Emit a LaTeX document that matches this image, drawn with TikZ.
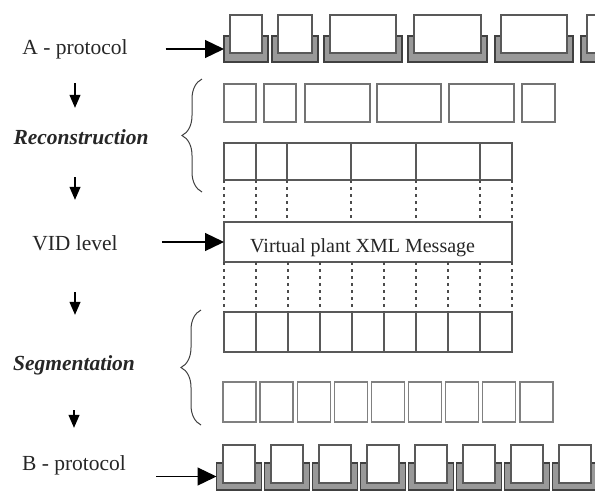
\documentclass[tikz,border=0pt]{standalone}
\usepackage{fontspec}
\setmainfont{Liberation Serif}
\usetikzlibrary{arrows.meta,decorations.pathreplacing}

\tikzset{
  lbl/.style={font=\fontsize{21.5}{24}\selectfont, text=black!85, inner sep=0pt, text height=15pt, text depth=5pt},
  stage/.style={lbl, font=\fontsize{21.5}{24}\selectfont\bfseries\itshape},
  cell/.style={draw=black!65, line width=1.4pt, fill=white, inner sep=0pt, outer sep=0pt},
  seg/.style={cell, draw=black!50, minimum width=33pt, minimum height=40pt},
  tray/.style={draw=black!75, line width=1.2pt, fill=black!40, inner sep=0pt, outer sep=0pt},
  link/.style={dash pattern=on 3pt off 4pt, line width=1.3pt, draw=black!70},
  feed/.style={-{Triangle[length=19pt,width=18pt]}, line width=1.3pt},
  down/.style={-{Triangle[length=13pt,width=11pt]}, line width=1.2pt},
  brace/.style={decorate, decoration={brace, amplitude=20pt}, line width=1pt, draw=black!75}
}

\begin{document}
\begin{tikzpicture}[x=1pt,y=-1pt]
\useasboundingbox (0,0) rectangle (595,491);

% labels on the left
\node[lbl] (alab) at (75,49) {A - protocol};
\node[stage] (rec) at (81,139) {Reconstruction};
\node[lbl] (vidlab) at (75,245) {VID level};
\node[stage] (segm) at (74,365) {Segmentation};
\node[lbl] (blab) at (74,465) {B - protocol};

% A-protocol packets
\node[tray, minimum width=44pt, minimum height=26pt] (apt1) at (246,49) {};
\node[tray, minimum width=46pt, minimum height=26pt] (apt2) at (295,49) {};
\node[tray, minimum width=78pt, minimum height=26pt] (apt3) at (363,49) {};
\node[tray, minimum width=79pt, minimum height=26pt] (apt4) at (447.5,49) {};
\node[tray, minimum width=78pt, minimum height=26pt] (apt5) at (534,49) {};
\node[tray, minimum width=78pt, minimum height=26pt] (apt6) at (620,49) {};
\node[cell, minimum width=32pt, minimum height=38pt] (ap1) at (246,34) {};
\node[cell, minimum width=34pt, minimum height=38pt] (ap2) at (295,34) {};
\node[cell, minimum width=66pt, minimum height=38pt] (ap3) at (363,34) {};
\node[cell, minimum width=67pt, minimum height=38pt] (ap4) at (447.5,34) {};
\node[cell, minimum width=66pt, minimum height=38pt] (ap5) at (534,34) {};
\node[cell, minimum width=66pt, minimum height=38pt] (ap6) at (620,34) {};

% received payloads
\node[cell, draw=black!55, minimum width=32pt, minimum height=38pt] (r1) at (240,103) {};
\node[cell, draw=black!55, minimum width=32pt, minimum height=38pt] (r2) at (280,103) {};
\node[cell, draw=black!55, minimum width=65pt, minimum height=38pt] (r3) at (337.5,103) {};
\node[cell, draw=black!55, minimum width=64pt, minimum height=38pt] (r4) at (409,103) {};
\node[cell, draw=black!55, minimum width=65pt, minimum height=38pt] (r5) at (481.5,103) {};
\node[cell, draw=black!55, minimum width=33pt, minimum height=38pt] (r6) at (538.5,103) {};

% merged payloads
\node[cell, minimum width=32pt, minimum height=37pt] (m1) at (240,161.5) {};
\node[cell, minimum width=31pt, minimum height=37pt] (m2) at (271.5,161.5) {};
\node[cell, minimum width=64pt, minimum height=37pt] (m3) at (319,161.5) {};
\node[cell, minimum width=65pt, minimum height=37pt] (m4) at (383.5,161.5) {};
\node[cell, minimum width=64pt, minimum height=37pt] (m5) at (448,161.5) {};
\node[cell, minimum width=32pt, minimum height=37pt] (m6) at (496,161.5) {};

% VID message
\node[cell, minimum width=288pt, minimum height=40pt] (vid) at (368,242) {};
\node[lbl, font=\fontsize{20}{22}\selectfont, anchor=west] (vidtxt) at (250,247) {Virtual plant XML Message};

% split payloads
\node[cell, minimum width=32pt, minimum height=40pt] (s1) at (240,332) {};
\node[cell, minimum width=32pt, minimum height=40pt] (s2) at (272,332) {};
\node[cell, minimum width=32pt, minimum height=40pt] (s3) at (304,332) {};
\node[cell, minimum width=32pt, minimum height=40pt] (s4) at (336,332) {};
\node[cell, minimum width=32pt, minimum height=40pt] (s5) at (368,332) {};
\node[cell, minimum width=32pt, minimum height=40pt] (s6) at (400,332) {};
\node[cell, minimum width=32pt, minimum height=40pt] (s7) at (432,332) {};
\node[cell, minimum width=32pt, minimum height=40pt] (s8) at (464,332) {};
\node[cell, minimum width=32pt, minimum height=40pt] (s9) at (496,332) {};

% segments
\node[seg] (g1) at (239.5,402) {};
\node[seg] (g2) at (276.6,402) {};
\node[seg] (g3) at (313.7,402) {};
\node[seg] (g4) at (350.8,402) {};
\node[seg] (g5) at (387.9,402) {};
\node[seg] (g6) at (425,402) {};
\node[seg] (g7) at (462.1,402) {};
\node[seg] (g8) at (499.2,402) {};
\node[seg] (g9) at (536.3,402) {};

% B-protocol packets
\node[tray, minimum width=45pt, minimum height=27pt] (bpt1) at (239,476.5) {};
\node[tray, minimum width=45pt, minimum height=27pt] (bpt2) at (287,476.5) {};
\node[tray, minimum width=45pt, minimum height=27pt] (bpt3) at (335,476.5) {};
\node[tray, minimum width=45pt, minimum height=27pt] (bpt4) at (383,476.5) {};
\node[tray, minimum width=45pt, minimum height=27pt] (bpt5) at (431,476.5) {};
\node[tray, minimum width=45pt, minimum height=27pt] (bpt6) at (479,476.5) {};
\node[tray, minimum width=45pt, minimum height=27pt] (bpt7) at (527,476.5) {};
\node[tray, minimum width=45pt, minimum height=27pt] (bpt8) at (575,476.5) {};
\node[cell, minimum width=32pt, minimum height=38pt] (bp1) at (239,464) {};
\node[cell, minimum width=32pt, minimum height=38pt] (bp2) at (287,464) {};
\node[cell, minimum width=32pt, minimum height=38pt] (bp3) at (335,464) {};
\node[cell, minimum width=32pt, minimum height=38pt] (bp4) at (383,464) {};
\node[cell, minimum width=32pt, minimum height=38pt] (bp5) at (431,464) {};
\node[cell, minimum width=32pt, minimum height=38pt] (bp6) at (479,464) {};
\node[cell, minimum width=32pt, minimum height=38pt] (bp7) at (527,464) {};
\node[cell, minimum width=32pt, minimum height=38pt] (bp8) at (575,464) {};

% dashed guides
\draw[link] (m1.south west) -- (m1.south west |- vid.north);
\draw[link] (m2.south west) -- (m2.south west |- vid.north);
\draw[link] (m3.south west) -- (m3.south west |- vid.north);
\draw[link] (m4.south west) -- (m4.south west |- vid.north);
\draw[link] (m5.south west) -- (m5.south west |- vid.north);
\draw[link] (m6.south west) -- (m6.south west |- vid.north);
\draw[link] (m6.south east) -- (m6.south east |- vid.north);
\draw[link] (s1.north west |- vid.south) -- (s1.north west);
\draw[link] (s2.north west |- vid.south) -- (s2.north west);
\draw[link] (s3.north west |- vid.south) -- (s3.north west);
\draw[link] (s4.north west |- vid.south) -- (s4.north west);
\draw[link] (s5.north west |- vid.south) -- (s5.north west);
\draw[link] (s6.north west |- vid.south) -- (s6.north west);
\draw[link] (s7.north west |- vid.south) -- (s7.north west);
\draw[link] (s8.north west |- vid.south) -- (s8.north west);
\draw[link] (s9.north west |- vid.south) -- (s9.north west);
\draw[link] (s9.north east |- vid.south) -- (s9.north east);

% braces
\draw[brace] (202,192) -- (202,79);
\draw[brace] (201,425) -- (201,310);

% arrows
\draw[feed, shorten <=38pt] (alab.east |- apt1.west) -- (apt1.west);
\draw[feed, shorten <=44pt] (vidlab.east |- vid.west) -- (vid.west);
\draw[feed, shorten <=30pt] (blab.east |- bpt1.west) -- (bpt1.west);
\draw[down, shorten <=24pt, shorten >=21pt] (alab.south) -- (alab.south |- rec.north);
\draw[down, shorten <=28pt, shorten >=35pt] (vidlab.north |- rec.south) -- (vidlab.north);
\draw[down, shorten <=37pt, shorten >=40pt] (vidlab.south) -- (vidlab.south |- segm.north);
\draw[down, shorten <=35pt, shorten >=27pt] (segm.south) -- (blab.north);
\end{tikzpicture}
\end{document}
